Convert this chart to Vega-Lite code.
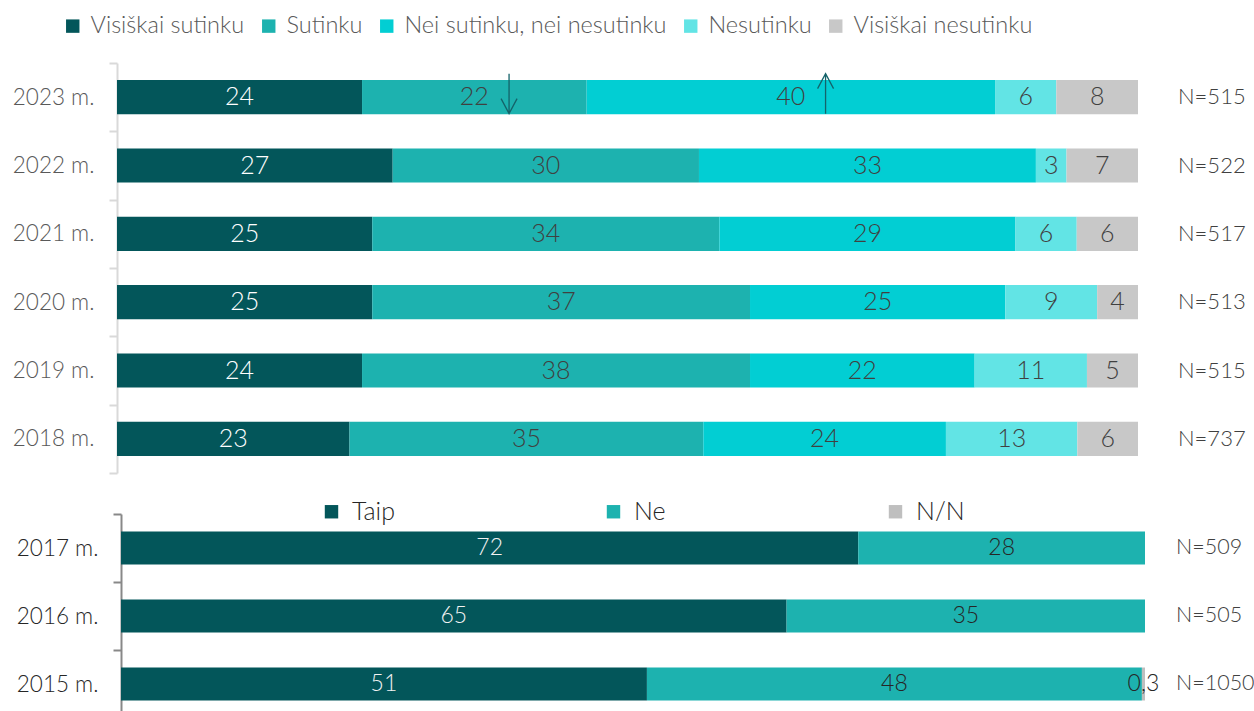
{
  "$schema": "https://vega.github.io/schema/vega-lite/v6.json",
  "padding": {"left": 0, "top": 14, "right": 0, "bottom": 0},
  "background": "white",
  "spacing": 25,
  "config": {"view": {"stroke": null}, "font": "Lato"},
  "resolve": {"scale": {"color": "independent", "shape": "independent"}, "legend": {"color": "independent"}},
  "datasets": {
    "top": [
      {"year": "2023 m.", "cat": "Visiškai sutinku", "k": 1, "value": 24, "label": "24"},
      {"year": "2023 m.", "cat": "Sutinku", "k": 2, "value": 22, "label": "22"},
      {"year": "2023 m.", "cat": "Nei sutinku, nei nesutinku", "k": 3, "value": 40, "label": "40"},
      {"year": "2023 m.", "cat": "Nesutinku", "k": 4, "value": 6, "label": "6"},
      {"year": "2023 m.", "cat": "Visiškai nesutinku", "k": 5, "value": 8, "label": "8"},
      {"year": "2022 m.", "cat": "Visiškai sutinku", "k": 1, "value": 27, "label": "27"},
      {"year": "2022 m.", "cat": "Sutinku", "k": 2, "value": 30, "label": "30"},
      {"year": "2022 m.", "cat": "Nei sutinku, nei nesutinku", "k": 3, "value": 33, "label": "33"},
      {"year": "2022 m.", "cat": "Nesutinku", "k": 4, "value": 3, "label": "3"},
      {"year": "2022 m.", "cat": "Visiškai nesutinku", "k": 5, "value": 7, "label": "7"},
      {"year": "2021 m.", "cat": "Visiškai sutinku", "k": 1, "value": 25, "label": "25"},
      {"year": "2021 m.", "cat": "Sutinku", "k": 2, "value": 34, "label": "34"},
      {"year": "2021 m.", "cat": "Nei sutinku, nei nesutinku", "k": 3, "value": 29, "label": "29"},
      {"year": "2021 m.", "cat": "Nesutinku", "k": 4, "value": 6, "label": "6"},
      {"year": "2021 m.", "cat": "Visiškai nesutinku", "k": 5, "value": 6, "label": "6"},
      {"year": "2020 m.", "cat": "Visiškai sutinku", "k": 1, "value": 25, "label": "25"},
      {"year": "2020 m.", "cat": "Sutinku", "k": 2, "value": 37, "label": "37"},
      {"year": "2020 m.", "cat": "Nei sutinku, nei nesutinku", "k": 3, "value": 25, "label": "25"},
      {"year": "2020 m.", "cat": "Nesutinku", "k": 4, "value": 9, "label": "9"},
      {"year": "2020 m.", "cat": "Visiškai nesutinku", "k": 5, "value": 4, "label": "4"},
      {"year": "2019 m.", "cat": "Visiškai sutinku", "k": 1, "value": 24, "label": "24"},
      {"year": "2019 m.", "cat": "Sutinku", "k": 2, "value": 38, "label": "38"},
      {"year": "2019 m.", "cat": "Nei sutinku, nei nesutinku", "k": 3, "value": 22, "label": "22"},
      {"year": "2019 m.", "cat": "Nesutinku", "k": 4, "value": 11, "label": "11"},
      {"year": "2019 m.", "cat": "Visiškai nesutinku", "k": 5, "value": 5, "label": "5"},
      {"year": "2018 m.", "cat": "Visiškai sutinku", "k": 1, "value": 23, "label": "23"},
      {"year": "2018 m.", "cat": "Sutinku", "k": 2, "value": 35, "label": "35"},
      {"year": "2018 m.", "cat": "Nei sutinku, nei nesutinku", "k": 3, "value": 24, "label": "24"},
      {"year": "2018 m.", "cat": "Nesutinku", "k": 4, "value": 13, "label": "13"},
      {"year": "2018 m.", "cat": "Visiškai nesutinku", "k": 5, "value": 6, "label": "6"}
    ],
    "topN": [
      {"year": "2023 m.", "n": "N=515"},
      {"year": "2022 m.", "n": "N=522"},
      {"year": "2021 m.", "n": "N=517"},
      {"year": "2020 m.", "n": "N=513"},
      {"year": "2019 m.", "n": "N=515"},
      {"year": "2018 m.", "n": "N=737"}
    ],
    "arrows": [
      {"year": "2023 m.", "pos": 0.384, "dir": "down"},
      {"year": "2023 m.", "pos": 0.694, "dir": "up"}
    ],
    "bottom": [
      {"year": "2017 m.", "cat": "Taip", "k": 1, "value": 72, "label": "72"},
      {"year": "2017 m.", "cat": "Ne", "k": 2, "value": 28, "label": "28"},
      {"year": "2016 m.", "cat": "Taip", "k": 1, "value": 65, "label": "65"},
      {"year": "2016 m.", "cat": "Ne", "k": 2, "value": 35, "label": "35"},
      {"year": "2015 m.", "cat": "Taip", "k": 1, "value": 51, "label": "51"},
      {"year": "2015 m.", "cat": "Ne", "k": 2, "value": 48, "label": "48"},
      {"year": "2015 m.", "cat": "N/N", "k": 3, "value": 0.3, "label": "0,3"}
    ],
    "bottomN": [
      {"year": "2017 m.", "n": "N=509"},
      {"year": "2016 m.", "n": "N=505"},
      {"year": "2015 m.", "n": "N=1050"}
    ]
  },
  "vconcat": [
    {
      "width": 1021,
      "height": 410,
      "layer": [
        {
          "data": {"name": "top"},
          "mark": {"type": "bar", "height": {"band": 0.5}},
          "encoding": {
            "y": {"field": "year", "type": "nominal",
              "scale": {"domain": ["2023 m.", "2022 m.", "2021 m.", "2020 m.", "2019 m.", "2018 m."], "paddingInner": 0, "paddingOuter": 0},
              "axis": {"title": null, "tickBand": "extent", "domainColor": "#D9D9D9", "domainWidth": 2, "tickColor": "#D9D9D9", "tickWidth": 2, "tickSize": 8,
                "labelFontSize": 22.5, "labelColor": "#595959", "labelFont": "Lato", "labelFontWeight": 300, "labelPadding": 15, "minExtent": 117, "maxExtent": 117}},
            "x": {"field": "value", "type": "quantitative", "stack": "normalize", "axis": null},
            "color": {"field": "cat", "type": "nominal",
              "scale": {"domain": ["Visiškai sutinku", "Sutinku", "Nei sutinku, nei nesutinku", "Nesutinku", "Visiškai nesutinku"],
                "range": ["#03565A", "#1DB2AF", "#02CED3", "#62E4E5", "#C8C8C8"]},
              "legend": {"title": null, "orient": "none", "legendX": -56, "legendY": -49, "direction": "horizontal",
                "symbolType": "square", "symbolSize": 180, "symbolStrokeWidth": 0, "labelFontSize": 23.5, "labelColor": "#595959",
                "labelFont": "Lato", "labelFontWeight": 300, "labelOffset": 6, "columnPadding": 12, "labelLimit": 500}},
            "order": {"field": "k"}
          }
        },
        {
          "data": {"name": "top"},
          "mark": {"type": "text", "fontSize": 25, "font": "Lato", "fontWeight": 300, "baseline": "middle"},
          "encoding": {
            "y": {"field": "year", "type": "nominal"},
            "x": {"field": "value", "type": "quantitative", "stack": "normalize", "bandPosition": 0.5},
            "detail": {"field": "cat"},
            "order": {"field": "k"},
            "text": {"field": "label"},
            "color": {"condition": {"test": "datum.cat === 'Visiškai sutinku'", "value": "#FFFFFF"}, "value": "#404040"}
          }
        },
        {
          "data": {"name": "topN"},
          "mark": {"type": "text", "align": "left", "baseline": "middle", "dx": 40, "fontSize": 22, "font": "Lato", "fontWeight": 300, "color": "#404040"},
          "encoding": {
            "y": {"field": "year", "type": "nominal"},
            "x": {"datum": 1, "type": "quantitative"},
            "text": {"field": "n"}
          }
        },
        {
          "data": {"name": "arrows"},
          "mark": {"type": "point", "filled": false, "size": 1600, "strokeWidth": 1.3, "color": "#14636A", "yOffset": -3.5, "opacity": 1},
          "encoding": {
            "y": {"field": "year", "type": "nominal"},
            "x": {"field": "pos", "type": "quantitative"},
            "shape": {"field": "dir", "type": "nominal", "legend": null,
              "scale": {"domain": ["down", "up"], "range": ["M0,-1L0,1M-0.4,0.25L0,1L0.4,0.25", "M0,1L0,-1M-0.4,-0.25L0,-1L0.4,-0.25"]}}
          }
        }
      ]
    },
    {
      "width": 1028,
      "height": 204,
      "layer": [
        {
          "data": {"name": "bottom"},
          "mark": {"type": "bar", "height": {"band": 0.485}},
          "encoding": {
            "y": {"field": "year", "type": "nominal",
              "scale": {"domain": ["2017 m.", "2016 m.", "2015 m."], "paddingInner": 0, "paddingOuter": 0},
              "axis": {"title": null, "tickBand": "extent", "offset": -4, "domainColor": "#888888", "domainWidth": 2, "tickColor": "#888888", "tickWidth": 2, "tickSize": 8,
                "labelFontSize": 22.5, "labelColor": "#262626", "labelFont": "Lato", "labelFontWeight": 300, "labelPadding": 15, "minExtent": 117, "maxExtent": 117}},
            "x": {"field": "value", "type": "quantitative", "stack": "normalize", "axis": null, "scale": {"range": [4, 1028]}},
            "color": {"field": "cat", "type": "nominal",
              "scale": {"domain": ["Taip", "Ne", "N/N"], "range": ["#03565A", "#1DB2AF", "#BFBFBF"]},
              "legend": {"title": null, "orient": "none", "legendX": 202, "legendY": -15, "direction": "horizontal", "gridAlign": "all",
                "symbolType": "square", "symbolSize": 180, "symbolStrokeWidth": 0, "labelFontSize": 25, "labelColor": "#262626",
                "labelFont": "Lato", "labelFontWeight": 300, "labelOffset": 8, "columnPadding": 200}},
            "order": {"field": "k"}
          }
        },
        {
          "data": {"name": "bottom"},
          "mark": {"type": "text", "fontSize": 23, "font": "Lato", "fontWeight": 300, "baseline": "middle"},
          "encoding": {
            "y": {"field": "year", "type": "nominal"},
            "x": {"field": "value", "type": "quantitative", "stack": "normalize", "bandPosition": 0.5},
            "detail": {"field": "cat"},
            "order": {"field": "k"},
            "text": {"field": "label"},
            "color": {"condition": {"test": "datum.cat === 'Taip'", "value": "#F2F2F2"}, "value": "#262626"}
          }
        },
        {
          "data": {"name": "bottomN"},
          "mark": {"type": "text", "align": "left", "baseline": "middle", "dx": 31, "fontSize": 21.5, "font": "Lato", "fontWeight": 300, "color": "#404040"},
          "encoding": {
            "y": {"field": "year", "type": "nominal"},
            "x": {"datum": 1, "type": "quantitative"},
            "text": {"field": "n"}
          }
        }
      ]
    }
  ]
}
